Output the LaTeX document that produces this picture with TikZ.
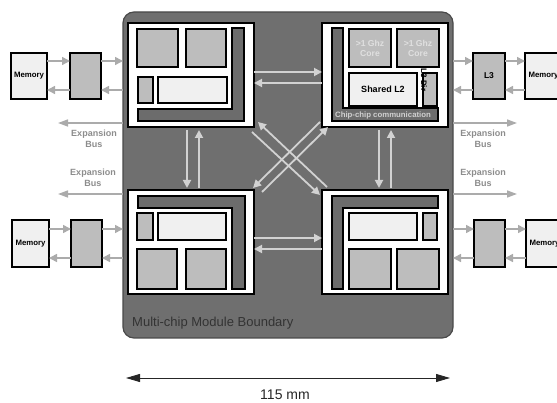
\documentclass[tikz,border=0pt]{standalone}
\usepackage{fontspec}
\setmainfont{Liberation Sans}
\usetikzlibrary{arrows.meta}
\definecolor{modfill}{HTML}{6F6F6F}
\definecolor{modedge}{HTML}{4A4A4A}
\definecolor{cellgray}{HTML}{BDBDBD}
\definecolor{cellpale}{HTML}{F0F0F0}
\definecolor{lshape}{HTML}{6C6C6C}
\definecolor{arrowlight}{HTML}{D2D2D2}
\definecolor{arrowext}{HTML}{ABABAB}
\definecolor{busgray}{HTML}{8C8C8C}
\tikzset{
  x=1pt,y=-1pt,
  base/.style={draw=black,line width=1.6pt,inner sep=0pt,outer sep=0pt,align=center},
  chip/.style={base,fill=white,line width=2pt},
  graycell/.style={base,fill=cellgray},
  palecell/.style={base,fill=cellpale},
  memcell/.style={base,fill=cellpale,line width=2pt,font=\bfseries\fontsize{7.8}{9}\selectfont},
  extcell/.style={base,fill=cellgray,line width=2pt},
  corecell/.style={graycell,text=white!88!black,font=\bfseries\fontsize{8.6}{10}\selectfont},
  lbar/.style={draw=black,line width=1.6pt,fill=lshape,line join=miter},
  linkarrow/.style={draw=arrowlight,line width=1.8pt,-{Triangle[length=8pt,width=8pt]}},
  extarrow/.style={draw=arrowext,line width=1.5pt,-{Triangle[length=8pt,width=8pt]}},
  busarrow/.style={draw=arrowext,line width=1.5pt,-{Triangle[length=10pt,width=7pt]}},
  dimarrow/.style={draw=black!85,line width=0.9pt,{Triangle[length=14pt,width=8pt]}-{Triangle[length=14pt,width=8pt]}},
  buslabel/.style={text=busgray,align=center,font=\bfseries\fontsize{9}{10.5}\selectfont,inner sep=0pt},
}
\newcommand{\pbox}[6]{\node[#5,minimum width={(#3-#1)*1pt},minimum height={(#4-#2)*1pt}] (#6) at ({(#1+#3)/2},{(#2+#4)/2}) {};}
\newcommand{\tbox}[7]{\node[#5,minimum width={(#3-#1)*1pt},minimum height={(#4-#2)*1pt}] (#6) at ({(#1+#3)/2},{(#2+#4)/2}) {#7};}
\begin{document}
\begin{tikzpicture}
\useasboundingbox (0,0) rectangle (557,403);
\clip (0,0) rectangle (557,403);
% module
\node[draw=modedge,line width=1.2pt,fill=modfill,rounded corners=11pt,inner sep=0pt,outer sep=0pt,minimum width=330pt,minimum height=326pt] (module) at (288,175) {};
\node[anchor=west,inner sep=0pt,text=black!80,font=\fontsize{13}{15}\selectfont] (modlabel) at (132,323) {Multi-chip Module Boundary};
% chips
\pbox{128}{23}{254}{127}{chip}{tl}
\pbox{322}{23}{448}{127}{chip}{tr}
\pbox{128}{190}{254}{294}{chip}{bl}
\pbox{322}{190}{448}{294}{chip}{br}
% top left contents
\pbox{137}{29}{178}{67}{graycell}{tla}
\pbox{186}{29}{226}{67}{graycell}{tlb}
\pbox{138}{77}{153}{103}{graycell}{tlc}
\pbox{158}{77}{227}{103}{palecell}{tld}
\draw[lbar] (232,28) -- (244,28) -- (244,121) -- (138,121) -- (138,109) -- (232,109) -- cycle;
% top right contents
\draw[lbar] (332,28) -- (343,28) -- (343,108) -- (438,108) -- (438,121) -- (332,121) -- cycle;
\tbox{349}{29}{391}{67}{corecell}{tra}{>1 Ghz\\Core}
\tbox{397}{29}{439}{67}{corecell}{trb}{>1 Ghz\\Core}
\tbox{349}{73}{417}{106}{palecell,font=\bfseries\fontsize{9}{10}\selectfont}{trc}{Shared L2}
\pbox{423}{73}{437}{106}{graycell}{trd}
\node[rotate=-90,inner sep=0pt,font=\bfseries\fontsize{8}{9}\selectfont] (l3dir) at (424,80) {L3 Dir};
\node[inner sep=0pt,text=white!82!black,font=\bfseries\fontsize{7.8}{9}\selectfont] (chipchip) at (383,115) {Chip-chip communication};
% bottom left contents
\draw[lbar] (138,196) -- (245,196) -- (245,289) -- (232,289) -- (232,208) -- (138,208) -- cycle;
\pbox{137}{213}{153}{240}{graycell}{bla}
\pbox{158}{213}{226}{240}{palecell}{blb}
\pbox{137}{249}{177}{289}{graycell}{blc}
\pbox{186}{249}{226}{289}{graycell}{bld}
% bottom right contents
\draw[lbar] (332,196) -- (438,196) -- (438,208) -- (343,208) -- (343,289) -- (332,289) -- cycle;
\pbox{349}{213}{417}{240}{palecell}{bra}
\pbox{423}{213}{437}{240}{graycell}{brb}
\pbox{349}{249}{391}{289}{graycell}{brc}
\pbox{397}{249}{439}{289}{graycell}{brd}
% external cells
\tbox{11}{53}{47}{99}{memcell}{memtl}{Memory}
\pbox{70}{53}{101}{99}{extcell}{exttl}
\tbox{473}{53}{505}{99}{extcell,font=\bfseries\fontsize{8.5}{10}\selectfont}{exttr}{L3}
\tbox{525}{53}{562}{99}{memcell}{memtr}{Memory}
\tbox{12}{220}{49}{267}{memcell}{membl}{Memory}
\pbox{71}{220}{102}{267}{extcell}{extbl}
\pbox{474}{220}{505}{267}{extcell}{extbr}
\tbox{526}{220}{563}{267}{memcell}{membr}{Memory}
% reference rows and columns
\coordinate (ra) at (0,61);
\coordinate (rb) at (0,90);
\coordinate (rc) at (0,229);
\coordinate (rd) at (0,258);
\coordinate (re) at (0,72);
\coordinate (rf) at (0,83);
\coordinate (rg) at (0,238);
\coordinate (rh) at (0,249);
\coordinate (rbusa) at (0,123);
\coordinate (rbusb) at (0,194);
\coordinate (busl) at (58,0);
\coordinate (busr) at (517,0);
\coordinate (ca) at (187,0);
\coordinate (cb) at (199,0);
\coordinate (cc) at (379,0);
\coordinate (cd) at (391,0);
% external arrows
\draw[extarrow] (memtl.east |- ra) -- (exttl.west |- ra);
\draw[extarrow] (exttl.west |- rb) -- (memtl.east |- rb);
\draw[extarrow] (exttl.east |- ra) -- (module.west |- ra);
\draw[extarrow] (module.west |- rb) -- (exttl.east |- rb);
\draw[extarrow] (module.east |- ra) -- (exttr.west |- ra);
\draw[extarrow] (exttr.west |- rb) -- (module.east |- rb);
\draw[extarrow] (exttr.east |- ra) -- (memtr.west |- ra);
\draw[extarrow] (memtr.west |- rb) -- (exttr.east |- rb);
\draw[extarrow] (membl.east |- rc) -- (extbl.west |- rc);
\draw[extarrow] (extbl.west |- rd) -- (membl.east |- rd);
\draw[extarrow] (extbl.east |- rc) -- (module.west |- rc);
\draw[extarrow] (module.west |- rd) -- (extbl.east |- rd);
\draw[extarrow] (module.east |- rc) -- (extbr.west |- rc);
\draw[extarrow] (extbr.west |- rd) -- (module.east |- rd);
\draw[extarrow] (extbr.east |- rc) -- (membr.west |- rc);
\draw[extarrow] (membr.west |- rd) -- (extbr.east |- rd);
% expansion buses
\draw[busarrow] (module.west |- rbusa) -- (busl |- rbusa);
\draw[busarrow] (module.east |- rbusa) -- (busr |- rbusa);
\draw[busarrow] (module.west |- rbusb) -- (busl |- rbusb);
\draw[busarrow] (module.east |- rbusb) -- (busr |- rbusb);
\node[buslabel] (busa) at (94,139) {Expansion\\Bus};
\node[buslabel] (busb) at (483,139) {Expansion\\Bus};
\node[buslabel] (busc) at (93,178) {Expansion\\Bus};
\node[buslabel] (busd) at (483,178) {Expansion\\Bus};
% chip links
\draw[linkarrow] (tl.east |- re) -- (tr.west |- re);
\draw[linkarrow] (tr.west |- rf) -- (tl.east |- rf);
\draw[linkarrow] (bl.east |- rg) -- (br.west |- rg);
\draw[linkarrow] (br.west |- rh) -- (bl.east |- rh);
\draw[linkarrow,shorten <=3pt,shorten >=2pt] (ca |- tl.south) -- (ca |- bl.north);
\draw[linkarrow,shorten <=2pt,shorten >=3pt] (cb |- bl.north) -- (cb |- tl.south);
\draw[linkarrow,shorten <=3pt,shorten >=2pt] (cc |- tr.south) -- (cc |- br.north);
\draw[linkarrow,shorten <=2pt,shorten >=3pt] (cd |- br.north) -- (cd |- tr.south);
% diagonals
\coordinate (da) at (320,122);
\coordinate (db) at (253,188);
\coordinate (dc) at (262,192);
\coordinate (dd) at (328,127);
\coordinate (de) at (327,187);
\coordinate (df) at (258,122);
\coordinate (dg) at (252,132);
\coordinate (dh) at (320,195);
\draw[linkarrow] (da) -- (db);
\draw[linkarrow] (dc) -- (dd);
\draw[linkarrow] (de) -- (df);
\draw[linkarrow] (dg) -- (dh);
% dimension
\coordinate (dimstart) at (126,378);
\coordinate (dimend) at (450,378);
\draw[dimarrow] (dimstart) -- (dimend);
\node[inner sep=0pt,text=black!85,font=\fontsize{14}{16}\selectfont] (dimlabel) at (285,395) {115 mm};
\end{tikzpicture}
\end{document}
